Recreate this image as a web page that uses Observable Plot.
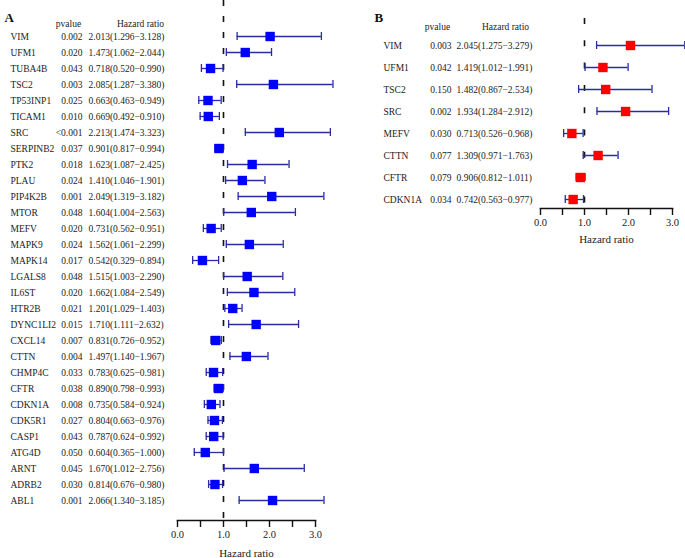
<!DOCTYPE html>
<html>
<head>
<meta charset="utf-8">
<script src="https://cdn.jsdelivr.net/npm/d3@7"></script>
<script src="https://cdn.jsdelivr.net/npm/@observablehq/plot@0.6"></script>
<style>
  html, body { margin: 0; padding: 0; background: #fff; }
  #wrap { position: relative; width: 685px; height: 558px; overflow: hidden; }
  #a { position: absolute; left: 0; top: 0; }
  #b { position: absolute; left: 360px; top: 0; }
  svg text { font-family: "Liberation Serif", "Times New Roman", serif !important; }
</style>
</head>
<body>
<div id="wrap"><div id="a"></div><div id="b"></div></div>
<script>
// Panel A data
const genesA = ["VIM","UFM1","TUBA4B","TSC2","TP53INP1","TICAM1","SRC","SERPINB2","PTK2","PLAU","PIP4K2B","MTOR","MEFV","MAPK9","MAPK14","LGALS8","IL6ST","HTR2B","DYNC1LI2","CXCL14","CTTN","CHMP4C","CFTR","CDKN1A","CDK5R1","CASP1","ATG4D","ARNT","ADRB2","ABL1"];
const pvalA = ["0.002","0.020","0.043","0.003","0.025","0.010","<0.001","0.037","0.018","0.024","0.001","0.048","0.020","0.024","0.017","0.048","0.020","0.021","0.015","0.007","0.004","0.033","0.038","0.008","0.027","0.043","0.050","0.045","0.030","0.001"];
const hrA = [2.013,1.473,0.718,2.085,0.663,0.669,2.213,0.901,1.623,1.410,2.049,1.604,0.731,1.562,0.542,1.515,1.662,1.201,1.710,0.831,1.497,0.783,0.890,0.735,0.804,0.787,0.604,1.670,0.814,2.066];
const loA = [1.296,1.062,0.520,1.287,0.463,0.492,1.474,0.817,1.087,1.046,1.319,1.004,0.562,1.061,0.329,1.003,1.084,1.029,1.111,0.726,1.140,0.625,0.798,0.584,0.663,0.624,0.365,1.012,0.676,1.340];
const hiA = [3.128,2.044,0.990,3.380,0.949,0.910,3.323,0.994,2.425,1.901,3.182,2.563,0.951,2.299,0.894,2.290,2.549,1.403,2.632,0.952,1.967,0.981,0.993,0.924,0.976,0.992,1.000,2.756,0.980,3.185];

// Panel B data
const genesB = ["VIM","UFM1","TSC2","SRC","MEFV","CTTN","CFTR","CDKN1A"];
const pvalB = ["0.003","0.042","0.150","0.002","0.030","0.077","0.079","0.034"];
const hrB = [2.045,1.419,1.482,1.934,0.713,1.309,0.906,0.742];
const loB = [1.275,1.012,0.867,1.284,0.526,0.971,0.812,0.563];
const hiB = [3.279,1.991,2.534,2.912,0.968,1.763,1.011,0.977];

const tickVals = [0, 0.5, 1, 1.5, 2, 2.5, 3];
const fmt = v => v.toFixed(3);

function rows(genes, pv, hr, lo, hi) {
  return genes.map((g, i) => ({gene: g, p: pv[i], hr: hr[i], lo: lo[i], hi: hi[i],
    label: `${fmt(hr[i])}(${fmt(lo[i])}−${fmt(hi[i])})`}));
}

const FONT = "'Liberation Serif', 'Times New Roman', serif";
const barColor = "#2b2ba6";

function forest(cfg) {
  const data = rows(cfg.genes, cfg.pv, cfg.hr, cfg.lo, cfg.hi);
  const n = cfg.genes.length;
  const step = (cfg.lastY - cfg.firstY) / (n - 1);
  const T = {fontFamily: FONT, fill: "#222"};
  return Plot.plot({
    width: cfg.width,
    height: cfg.height,
    marginLeft: cfg.marginLeft,
    marginRight: cfg.marginRight,
    marginTop: cfg.marginTop,
    marginBottom: cfg.marginBottom,
    style: {fontFamily: FONT, fontSize: "9.5px", background: "transparent", overflow: "visible", color: "#222"},
    x: {domain: [0, 3]},
    y: {type: "band", domain: cfg.genes, range: [cfg.firstY - step / 2, cfg.lastY + step / 2], padding: 0, axis: null},
    marks: [
      Plot.ruleX([1], {stroke: "#111", strokeWidth: 1.6, strokeDasharray: cfg.dash, strokeDashoffset: cfg.dashOffset}),
      Plot.ruleY(data, {y: "gene", x1: "lo", x2: "hi", stroke: barColor, strokeWidth: 1.3}),
      Plot.tickX(data, {x: "lo", y: "gene", stroke: barColor, strokeWidth: 1.3, insetTop: cfg.capInset, insetBottom: cfg.capInset}),
      Plot.tickX(data, {x: "hi", y: "gene", stroke: barColor, strokeWidth: 1.3, insetTop: cfg.capInset, insetBottom: cfg.capInset}),
      Plot.dot(data, {x: "hr", y: "gene", symbol: "square", r: cfg.r, fill: cfg.fill, stroke: "none"}),
      // text columns
      Plot.text(data, {...T, y: "gene", text: "gene", frameAnchor: "left", textAnchor: "start", dx: cfg.nameX - cfg.marginLeft}),
      Plot.text(data, {...T, y: "gene", text: "p", frameAnchor: "left", textAnchor: "end", dx: cfg.pEndX - cfg.marginLeft}),
      Plot.text(data, {...T, y: "gene", text: "label", frameAnchor: "left", textAnchor: "start", dx: cfg.hrStartX - cfg.marginLeft}),
      // headers
      Plot.text([cfg.letter], {...T, frameAnchor: "top-left", textAnchor: "start", dx: cfg.letterX - cfg.marginLeft, dy: cfg.letterY - cfg.marginTop, fontWeight: "bold", fontSize: 13, fill: "#111"}),
      Plot.text(["pvalue"], {...T, frameAnchor: "top-left", textAnchor: "middle", dx: cfg.pHeadX - cfg.marginLeft, dy: cfg.headY - cfg.marginTop}),
      Plot.text(["Hazard ratio"], {...T, frameAnchor: "top-left", textAnchor: "middle", dx: cfg.hrHeadX - cfg.marginLeft, dy: cfg.headY - cfg.marginTop}),
      // axis
      Plot.frame({anchor: "bottom", stroke: "#111", strokeWidth: 1.6}),
      Plot.axisX({ticks: tickVals, tickFormat: d => Number.isInteger(d) ? d.toFixed(1) : "", tickSize: 7, strokeWidth: 1.4, stroke: "#111",
        fontSize: 10.5, fontFamily: FONT, fill: "#222", label: null}),
      Plot.text(["Hazard ratio"], {...T, frameAnchor: "bottom", dy: cfg.axisLabelDy, fontSize: 11})
    ]
  });
}

document.getElementById("a").appendChild(forest({
  genes: genesA, pv: pvalA, hr: hrA, lo: loA, hi: hiA,
  width: 360, height: 558, marginLeft: 177, marginRight: 45, marginTop: 0, marginBottom: 38,
  firstY: 36, lastY: 500, capInset: 4, r: 5.3, fill: "#0000ff",
  dash: "6,10", dashOffset: 0,
  nameX: 10, pEndX: 82, hrStartX: 88,
  letter: "A", letterX: 4, letterY: 12, pHeadX: 68, hrHeadX: 140, headY: 20,
  axisLabelDy: 36
}));

document.getElementById("b").appendChild(forest({
  genes: genesB, pv: pvalB, hr: hrB, lo: loB, hi: hiB,
  width: 325, height: 260, marginLeft: 180, marginRight: 13, marginTop: 18, marginBottom: 52,
  firstY: 44, lastY: 200, capInset: 7, r: 5.3, fill: "#ff0000",
  dash: "6,16.3", dashOffset: 0,
  nameX: 23, pEndX: 91, hrStartX: 96,
  letter: "B", letterX: 14, letterY: 12, pHeadX: 77, hrHeadX: 145, headY: 23,
  axisLabelDy: 34
}));
</script>
</body>
</html>
